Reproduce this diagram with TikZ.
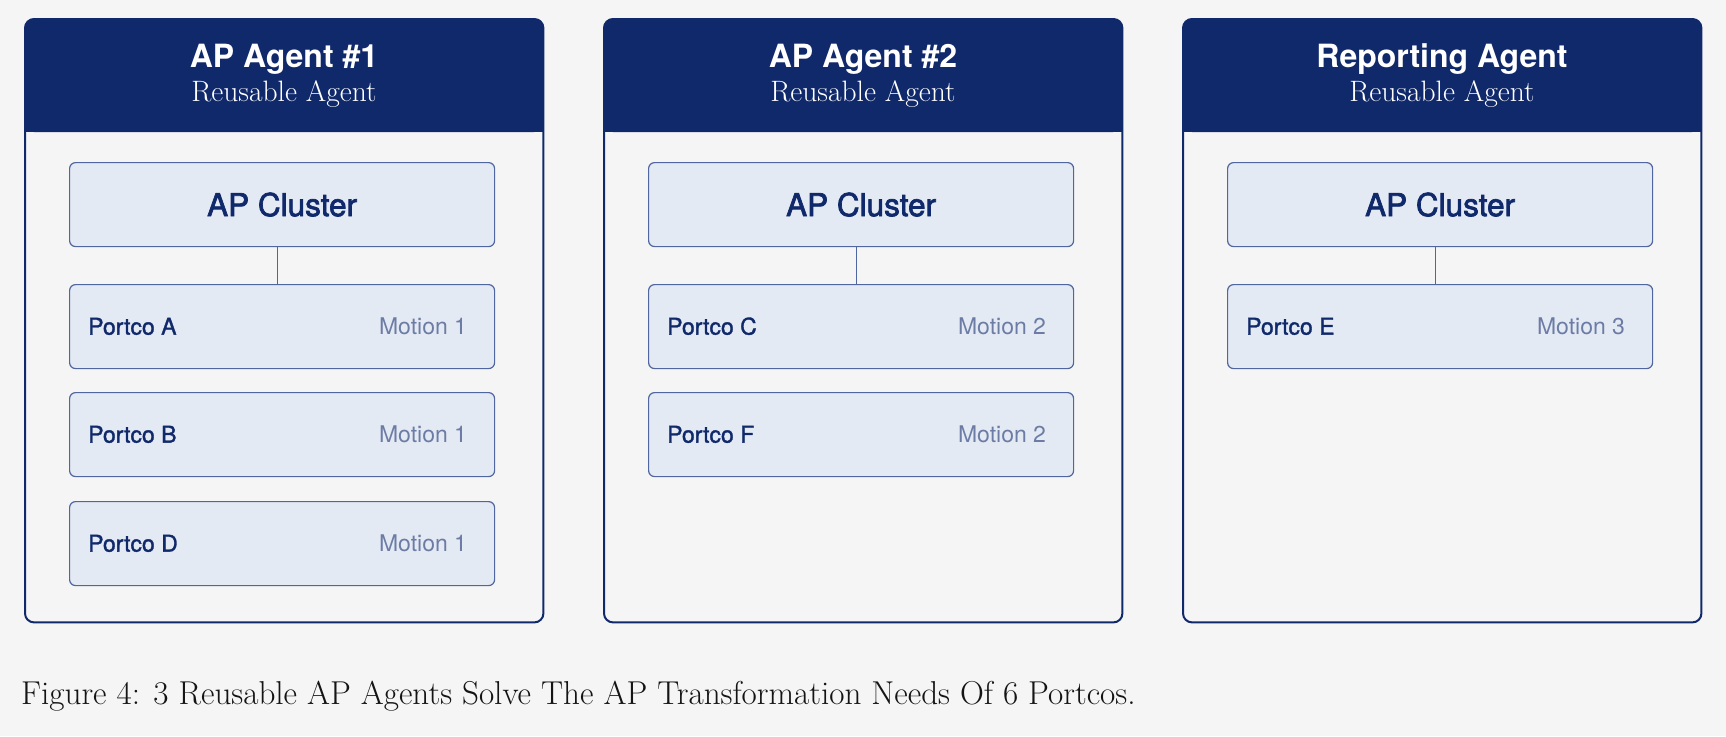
\documentclass[tikz,border=0pt]{standalone}
\usepackage{fontspec}
\setsansfont{TeX Gyre Heros}
\newfontfamily\medfont{TeX Gyre Heros}[FakeBold=1.4]
\newfontfamily\semifont{TeX Gyre Heros}[FakeBold=2.2]
\usetikzlibrary{calc}
\definecolor{navy}{RGB}{16,41,107}
\definecolor{bgc}{RGB}{245,245,245}
\definecolor{cellfill}{RGB}{228,234,244}
\definecolor{cellline}{RGB}{80,102,160}
\definecolor{motion}{RGB}{108,124,165}
\definecolor{captxt}{RGB}{20,20,20}
\tikzset{
  outerbox/.style={fill=bgc, minimum width=518pt, minimum height=603pt, inner sep=0pt, anchor=north west},
  outerline/.style={draw=navy, line width=2pt, rounded corners=9pt},
  cellbox/.style={draw=cellline, line width=1.2pt, fill=cellfill, rounded corners=6pt, minimum width=425pt, minimum height=84pt, inner sep=0pt, anchor=north west},
  titletext/.style={text=white, anchor=base, inner sep=0pt, font=\sffamily\bfseries\fontsize{32}{38}\selectfont},
  subtext/.style={text=white, anchor=base, inner sep=0pt, font=\fontsize{29.5}{34}\selectfont},
  clustertext/.style={text=navy, font=\semifont\fontsize{31.5}{36}\selectfont},
  porttext/.style={text=navy, anchor=base west, inner sep=0pt, font=\medfont\fontsize{23}{27}\selectfont},
  motiontext/.style={text=motion, anchor=base east, inner sep=0pt, font=\sffamily\fontsize{23}{27}\selectfont},
  conn/.style={draw=cellline, line width=1.2pt}
}
\newcommand{\agentbox}[4]{%
  \node[outerbox] (#2) at (#1,19) {};
  \fill[navy, rounded corners=9pt] (#1,19) rectangle (#1+518,132);
  \fill[navy] (#1,110) rectangle (#1+518,132);
  \draw[outerline] (#2.north west) rectangle (#2.south east);
  \node[titletext] (#2t) at (#1+259,67) {#3};
  \node[subtext] (#2s) at (#1+259,101) {Reusable Agent};
  \node[cellbox, clustertext] (#2c) at (#1+44,162) {AP Cluster};
}
\newcommand{\portrow}[6]{%
  \node[cellbox] (#1) at (#2,#3) {};
  \node[porttext] (#1p) at ($(#1.west)+(19,8)$) {#4};
  \node[motiontext] (#1m) at ($(#1.east)+(-28,8)$) {#5};
}
\begin{document}
\begin{tikzpicture}[x=1pt,y=-1pt]
\fill[bgc] (0,0) rectangle (1726,736);
\useasboundingbox (0,0) rectangle (1726,736);

\agentbox{25}{ba}{AP Agent \#1}{}
\portrow{ra}{69}{284}{Portco A}{Motion 1}{}
\portrow{rb}{69}{392}{Portco B}{Motion 1}{}
\portrow{rd}{69}{501}{Portco D}{Motion 1}{}
\draw[conn] ($(bac.south)+(-5,0)$) -- ($(ra.north)+(-5,0)$);

\agentbox{604}{bb}{AP Agent \#2}{}
\portrow{rc}{648}{284}{Portco C}{Motion 2}{}
\portrow{rf}{648}{392}{Portco F}{Motion 2}{}
\draw[conn] ($(bbc.south)+(-5,0)$) -- ($(rc.north)+(-5,0)$);

\agentbox{1183}{bc}{Reporting Agent}{}
\portrow{re}{1227}{284}{Portco E}{Motion 3}{}
\draw[conn] ($(bcc.south)+(-5,0)$) -- ($(re.north)+(-5,0)$);

\node[anchor=base west, inner sep=0pt, text=captxt, font=\fontsize{33.1}{38}\selectfont] (cap) at (21,704) {Figure 4: 3 Reusable AP Agents Solve The AP Transformation Needs Of 6 Portcos.};
\end{tikzpicture}
\end{document}
